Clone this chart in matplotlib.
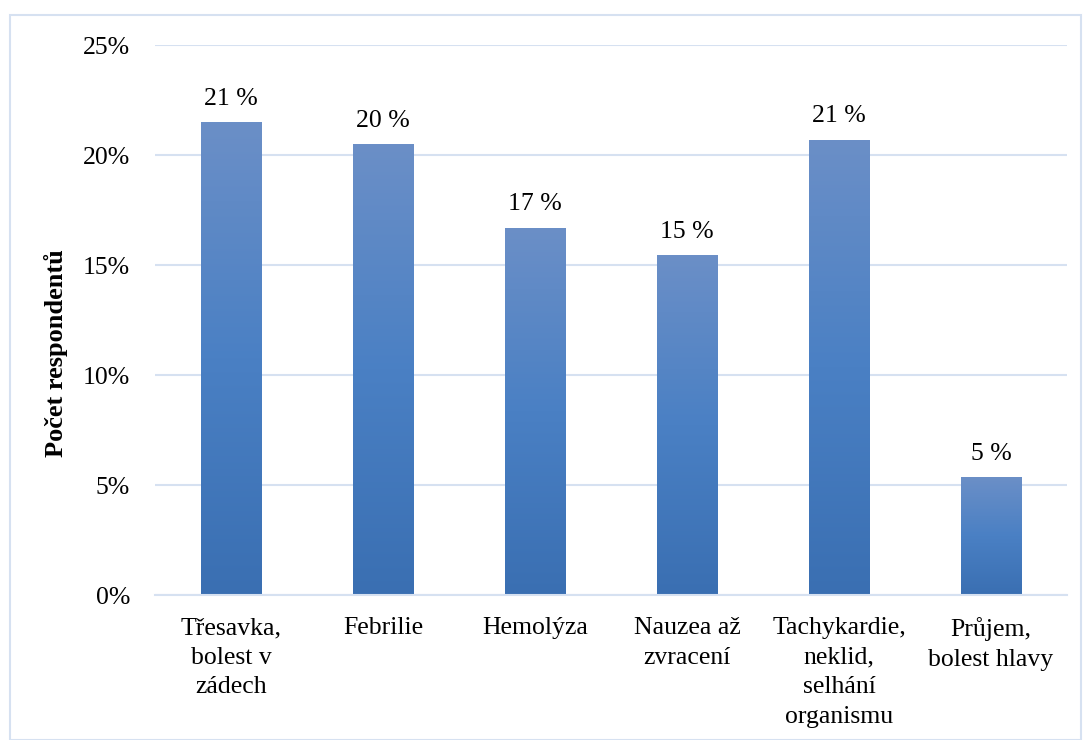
import matplotlib.pyplot as plt
import numpy as np
from matplotlib.patches import Rectangle
from matplotlib.colors import LinearSegmentedColormap

categories = ["Třesavka,\nbolest v\nzádech", "Febrilie", "Hemolýza", "Nauzea až\nzvracení",
              "Tachykardie,\nneklid,\nselhání\norganismu", "Průjem,\nbolest hlavy"]
values = [21.5, 20.5, 16.7, 15.45, 20.7, 5.35]
labels = ["21 %", "20 %", "17 %", "15 %", "21 %", "5 %"]

plt.rcParams['font.family'] = ['Liberation Serif', 'DejaVu Serif']

fig = plt.figure(figsize=(10.83, 7.40), dpi=100)
ax = fig.add_axes([155 / 1083, 1 - 595 / 740, 912 / 1083, 550 / 740])

x = np.arange(len(categories))
bars = ax.bar(x, values, width=0.4, color='#4f81bd', zorder=2)

# vertical gradient inside each bar
grad = np.linspace(0, 1, 256).reshape(-1, 1)
cmap = LinearSegmentedColormap.from_list('g', ['#3a6fb2', '#4a80c4', '#6b8fc7'])
for b in bars:
    b.set_facecolor('none')
    im = ax.imshow(grad, cmap=cmap, aspect='auto', origin='lower',
                   extent=[b.get_x(), b.get_x() + b.get_width(), 0, b.get_height()], zorder=2)
    im.set_clip_path(b)

for xi, v, lab in zip(x, values, labels):
    ax.text(xi, v + 0.55, lab, ha='center', va='bottom', fontsize=18.5)

ax.set_xlim(-0.5, len(categories) - 0.5)
ax.set_ylim(0, 25)
ax.set_yticks(np.arange(0, 26, 5))
ax.set_yticklabels([f"{t}%" for t in range(0, 26, 5)], fontsize=18.5)
ax.set_xticks(x)
ax.set_xticklabels(categories, fontsize=18.5, linespacing=1.44, va='top')
ax.tick_params(axis='x', length=0, pad=16)
ax.tick_params(axis='y', length=0, pad=18)
ax.grid(axis='y', color='#d6e1f1', linewidth=1.5, zorder=0)
for s in ['top', 'right', 'left']:
    ax.spines[s].set_visible(False)
ax.spines['bottom'].set_color('#d6e1f1')
ax.spines['bottom'].set_linewidth(1.5)
ax.set_ylabel("Počet respondentů", fontsize=19, fontweight='bold')
ax.yaxis.set_label_coords(-0.095, 0.44)

fig.patches.append(Rectangle((10 / 1083, 0), 1 - 12 / 1083, 1 - 15 / 740, transform=fig.transFigure,
                             fill=False, edgecolor='#d6e1f1', linewidth=1.5))

fig.savefig('out.png', dpi=100)
